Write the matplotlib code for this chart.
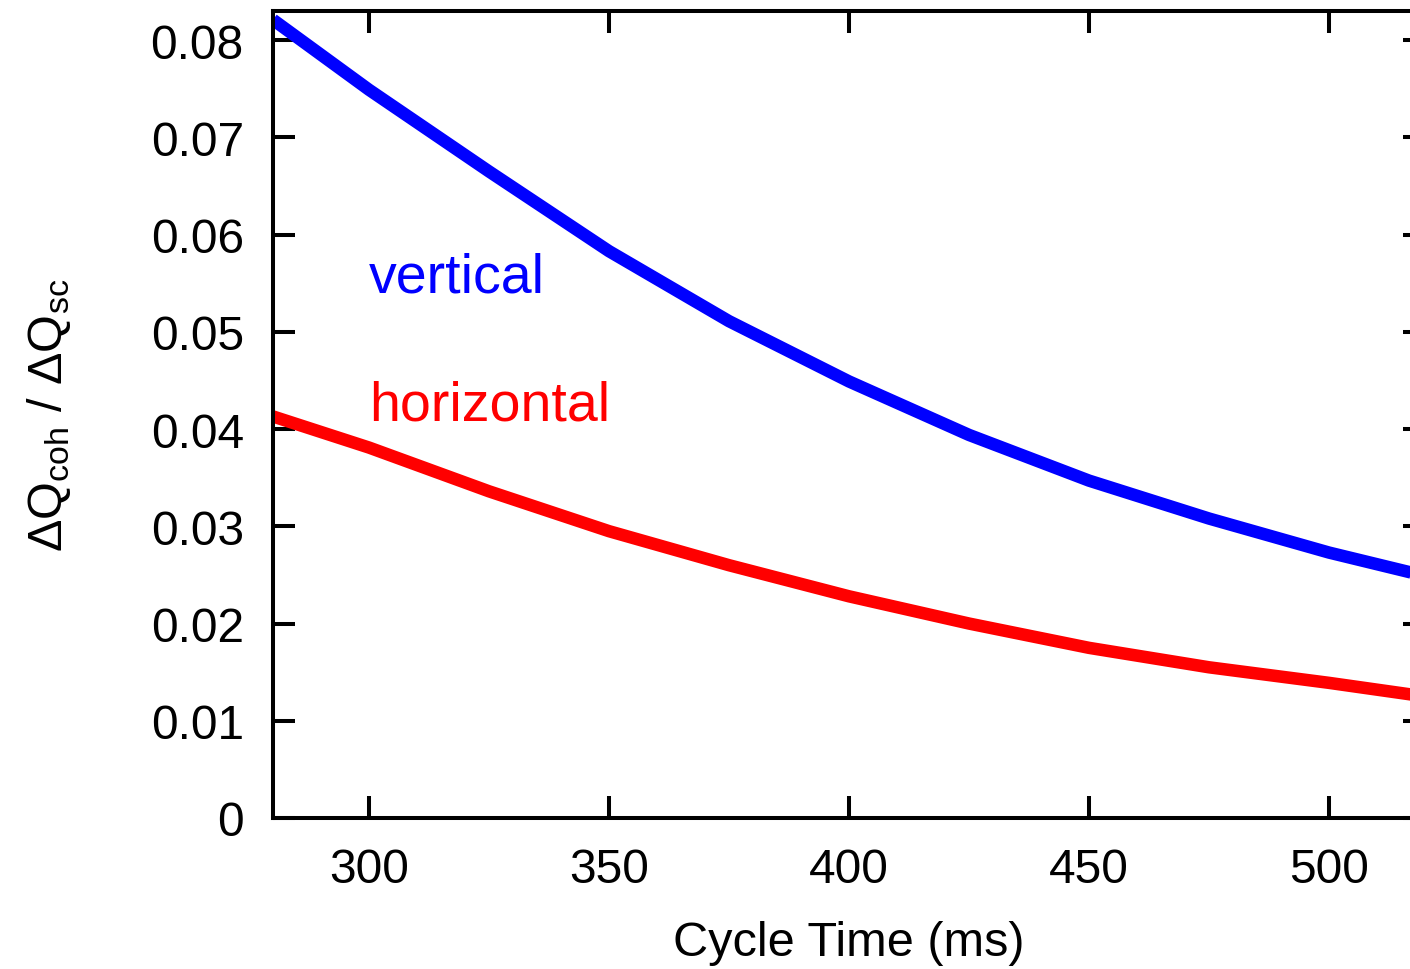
import matplotlib
matplotlib.use("Agg")
import matplotlib.pyplot as plt

# === Data ===
cycle_time = [280, 300, 325, 350, 375, 400, 425, 450, 475, 500, 520]
vertical = [0.0821, 0.0749, 0.0665, 0.0583, 0.0511, 0.0449, 0.0394, 0.0347, 0.0308, 0.0273, 0.0249]
horizontal = [0.0413, 0.0381, 0.0336, 0.0295, 0.0260, 0.0228, 0.0200, 0.0175, 0.0155, 0.0139, 0.0125]
x_ticks = [300, 350, 400, 450, 500]
y_ticks = [0, 0.01, 0.02, 0.03, 0.04, 0.05, 0.06, 0.07, 0.08]
y_tick_labels = ["0", "0.01", "0.02", "0.03", "0.04", "0.05", "0.06", "0.07", "0.08"]

plt.rcParams['font.family'] = ['Liberation Sans', 'DejaVu Sans']
plt.rcParams['mathtext.fontset'] = 'custom'
plt.rcParams['mathtext.rm'] = 'Liberation Sans'
plt.rcParams['mathtext.it'] = 'Liberation Sans'

fig = plt.figure(figsize=(14.1, 9.7), dpi=100)
# right spine sits just outside the figure, like the cropped original
ax = fig.add_axes([273 / 1410, 1 - 819 / 970, (1425 - 273) / 1410, (819 - 12) / 970])

ax.plot(cycle_time, vertical, color='#0000ff', lw=9, solid_capstyle='butt')
ax.plot(cycle_time, horizontal, color='#ff0000', lw=9, solid_capstyle='butt')

ax.text(300, 0.0541, "vertical", color='#0000ff', fontsize=40, va='baseline', ha='left')
ax.text(300, 0.0410, "horizontal", color='#ff0000', fontsize=40, va='baseline', ha='left')

ax.set_xlim(280, 520)
ax.set_ylim(0, 0.083)
ax.set_xticks(x_ticks)
ax.set_yticks(y_ticks)
ax.set_yticklabels(y_tick_labels)

for s in ax.spines.values():
    s.set_linewidth(2.9)
ax.tick_params(direction='in', length=16, width=2.9, labelsize=34.5,
               top=True, right=True)
ax.tick_params(axis='x', pad=21)
ax.tick_params(axis='y', pad=21)

ax.set_xlabel("Cycle Time (ms)", fontsize=35, labelpad=20)
ax.set_ylabel(r"$\Delta\mathrm{Q}_{\mathrm{coh}}$ / $\Delta\mathrm{Q}_{\mathrm{sc}}$", fontsize=35, labelpad=56)

fig.savefig("out.png", dpi=100)
